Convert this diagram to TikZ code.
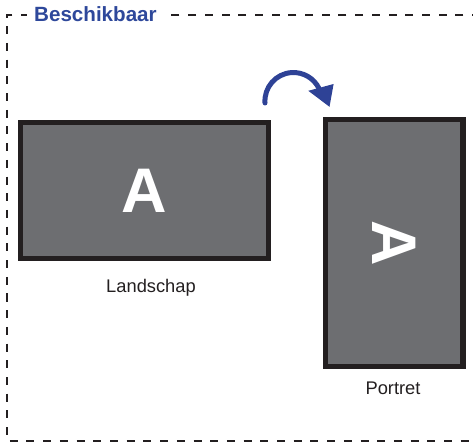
\documentclass[tikz,border=0pt]{standalone}
\usepackage{fontspec}
\setmainfont{Liberation Sans}
\definecolor{framedark}{HTML}{231F20}
\definecolor{screengray}{HTML}{6D6E71}
\definecolor{titleblue}{RGB}{46,72,155}
\definecolor{arrowblue}{RGB}{46,66,150}
\begin{document}
\begin{tikzpicture}[x=1pt,y=-1pt,
  screen/.style={draw=framedark, fill=screengray, line width=5.2pt, inner sep=0pt,
    text=white, font=\fontsize{63}{63}\selectfont\bfseries},
  caption/.style={anchor=base, inner sep=0pt, text=framedark, font=\fontsize{18.3}{20}\selectfont},
  frameline/.style={draw=framedark, line width=1.8pt, dash pattern=on 8pt off 8.7pt},
  titletext/.style={anchor=base west, fill=white, inner xsep=7pt, inner ysep=3pt,
    text=titleblue, font=\fontsize{20.6}{22}\selectfont\bfseries}]
\useasboundingbox (0,0) rectangle (473,443);
% dashed frame
\coordinate (ftr) at (480,15);
\coordinate (ftl) at (7,15);
\coordinate (fbl) at (7,441);
\coordinate (fbr) at (480,441);
\draw[frameline] (ftr) -- (ftl) -- (fbl) -- (fbr);
\node[titletext] (title) at (27,21.7) {Beschikbaar};
% screens
\node[screen, minimum width=248pt, minimum height=136pt] (land) at (144.5,190.5) {A};
\node[screen, minimum width=247pt, minimum height=137.5pt, rotate=-90] (port) at (394.2,243) {A};
% captions
\node[caption] (landcap) at (151,292) {Landschap};
\node[caption] (portcap) at (393,394.5) {Portret};
% rotation arrow
\coordinate (arcstart) at (265,103);
\coordinate (tip) at (329.5,106.8);
\coordinate (hl) at (308.3,90.8);
\coordinate (hr) at (333.6,84);
\draw[arrowblue, line width=5pt, line cap=round] (arcstart) arc[start angle=176, end angle=334, radius=28.5];
\fill[arrowblue] (tip) -- (hl) -- (hr) -- cycle;
\end{tikzpicture}
\end{document}
